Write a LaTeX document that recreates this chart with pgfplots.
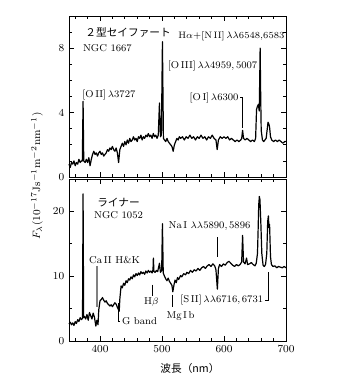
\documentclass[border=0pt]{standalone}
\usepackage{fontspec}
\usepackage{pgfplots}
\pgfplotsset{compat=1.18}
\newfontfamily\jp{Noto Sans CJK JP}
\newcommand{\lf}{\fontsize{7.5}{9}\selectfont}
\pgfplotsset{spec/.style={scale only axis, width=162.75pt, xmin=350, xmax=700,
  xtick={400,500,600,700}, minor xtick={360,380,...,680},
  tick align=inside, xtick pos=both, ytick pos=both,
  major tick length=3.5pt, minor tick length=2pt,
  tick style={black, line width=0.5pt}, axis line style={line width=0.6pt},
  tick label style={font=\fontsize{8}{9}\selectfont}, clip=false},
  sp/.style={black, no markers, line width=0.9pt, line join=round}}
\begin{document}
\begin{tikzpicture}
\useasboundingbox (0pt,0pt) rectangle (270pt,-286.5pt);
% top panel
\begin{axis}[spec, height=120.75pt, at={(51.75pt,-12pt)}, anchor=north west,
  ymin=0, ymax=10, ytick={0,4,8}, minor ytick={1,2,3,5,6,7,9}, xticklabels={}]
\addplot[sp] coordinates {
(350,0.8)(352,0.6)(354,0.9)(356,0.8)(358,1.0)(360,0.7)(362,0.9)(364,0.8)(366,1.1)(368,0.9)(370,1.0)(371.5,1.0)(372.7,4.7)(373.8,1.0)
(376,0.9)(378,1.1)(380,0.9)(382,1.2)(384,0.7)(386,1.1)(388,1.4)(390,1.6)(392,1.4)(394,1.5)(396,1.3)(398,1.5)(400,1.6)
(402,1.4)(404,1.5)(406,1.3)(408,1.4)(410,1.5)(412,1.7)(414,1.6)(416,1.8)(418,1.7)(420,1.9)(422,1.7)(424,1.6)(426,1.8)
(428,1.5)(430,0.9)(432,1.7)(434,1.9)(436,2.1)(438,1.9)(440,2.2)(442,2.0)(444,2.3)(446,2.1)(448,2.4)(450,2.2)(452,2.3)
(454,2.5)(456,2.3)(458,2.4)(460,2.2)(462,2.5)(464,2.4)(466,2.6)(468,2.3)(470,2.5)(472,2.4)(474,2.6)(476,2.5)(478,2.7)
(480,2.5)(482,2.6)(484,2.4)(486,2.7)(488,2.5)(490,2.6)(492,2.4)(494,2.6)(495.9,4.6)(497.5,2.5)(499,2.6)(500.7,8.4)(502.3,2.4)
(504,2.3)(506,2.2)(508,2.4)(510,2.2)(512,2.1)(514,2.0)(516,1.9)(518,1.6)(520,2.0)(522,2.2)(524,2.4)(526,2.3)(528,2.5)
(530,2.4)(533,2.5)(536,2.3)(539,2.5)(542,2.4)(545,2.6)(548,2.4)(551,2.5)(554,2.3)(557,2.5)(560,2.4)(563,2.6)(566,2.4)
(569,2.5)(572,2.3)(575,2.5)(578,2.4)(581,2.6)(584,2.4)(587,2.3)(589,1.7)(591,2.3)(594,2.5)(597,2.4)(600,2.5)(603,2.4)
(606,2.5)(609,2.3)(612,2.4)(615,2.3)(618,2.2)(621,2.3)(624,2.2)(627,2.3)(628.5,2.4)(630,2.9)(631.5,2.4)(634,2.3)(637,2.4)
(640,2.3)(643,2.2)(646,2.3)(649,2.2)(651,2.4)(652.5,4.2)(654,4.4)(655.5,4.5)(656.8,4.1)(657.6,6.0)(658.3,8.0)(659.2,5.0)
(660,2.9)(662,2.3)(664,2.2)(666,2.3)(668,2.4)(669.5,2.9)(671,3.4)(672.3,3.3)(673.5,3.1)(675,2.5)(677,2.3)(680,2.2)
(683,2.3)(686,2.2)(689,2.3)(692,2.2)(695,2.1)(698,2.2)(700,2.2)
};
\node[anchor=west, font=\jp\fontsize{8}{9}\selectfont] at (369,9.0) {２型セイファート};
\node[anchor=west, font=\lf, inner sep=1pt] at (370,8.0) {NGC 1667};
\node[anchor=west, font=\lf, inner sep=1pt] at (369,5.1) {[O\,II]\,$\lambda$3727};
\node[anchor=west, font=\lf, inner sep=1pt] at (507,6.9) {[O\,III]\,$\lambda\lambda$4959,\,5007};
\node[anchor=east, font=\fontsize{7}{9}\selectfont, inner sep=0.5pt] at (699,8.75) {H$\alpha$+[N\,II]\,$\lambda\lambda$6548,6583};
\node[anchor=east, font=\lf, inner sep=1pt] at (626,4.9) {[O\,I]\,$\lambda$6300};
\draw[line width=0.5pt] (626.5,4.95) -- (630,4.95) -- (630,3.05);
\end{axis}
% bottom panel
\begin{axis}[spec, height=121.5pt, at={(51.75pt,-134.25pt)}, anchor=north west,
  ymin=0, ymax=25, ytick={0,10,20}, minor ytick={5,15}]
\addplot[sp] coordinates {
(350,2.6)(352,2.9)(354,2.5)(356,2.8)(358,2.4)(360,3.0)(362,2.7)(364,3.3)(366,3.0)(368,3.6)(370,3.3)(371.8,3.5)(372.7,22.7)(373.6,3.6)
(375,3.8)(377,3.4)(379,4.1)(381,3.2)(383,4.4)(385,3.9)(387,3.4)(389,4.3)(391,3.7)(393.3,2.3)(395,3.2)(396.8,2.5)(398,4.8)
(400,6.2)(402,6.4)(404,6.7)(406,6.3)(408,6.0)(410,6.2)(412,5.8)(414,5.6)(416,5.4)(418,5.6)(420,5.3)(422,5.6)(424,5.9)
(426,5.7)(428,5.2)(430,4.8)(431,4.6)(432,6.5)(434,8.5)(436,8.2)(438,8.9)(440,8.6)(442,9.3)(444,9.0)(446,9.6)(448,9.4)
(450,9.9)(452,9.6)(454,10.2)(456,9.9)(458,10.4)(460,10.1)(462,10.5)(464,10.2)(466,10.7)(468,10.4)(470,10.6)(472,10.3)
(474,10.8)(476,10.5)(478,10.9)(480,10.6)(482,10.8)(484,10.5)(485.5,11.0)(486.1,12.8)(487,10.7)(489,10.6)(491,10.9)
(493,10.7)(495.9,12.0)(497.5,10.6)(499.5,10.9)(500.7,18.1)(502,10.5)(504,10.0)(506,9.6)(508,9.3)(510,9.7)(512,9.2)
(514,8.9)(516,8.6)(517.5,7.6)(519,8.5)(521,9.4)(523,9.0)(525,9.8)(527,9.5)(530,10.1)(532,9.9)(535,10.4)(538,10.2)
(540,10.6)(543,10.4)(546,10.9)(549,10.6)(552,11.0)(555,10.8)(558,11.2)(561,10.9)(564,11.3)(567,11.5)(570,11.2)(573,11.6)
(576,11.8)(579,11.5)(582,11.9)(585,11.6)(587,11.0)(589.3,8.0)(591,11.2)(593,11.8)(596,11.5)(599,11.9)(602,11.7)(605,12.1)
(608,12.3)(611,12.0)(614,11.7)(617,11.5)(620,11.8)(623,11.6)(626,11.8)(628.5,12.2)(630,16.3)(631.5,12.2)(634,11.9)
(636.4,12.8)(638,11.8)(641,11.9)(644,12.1)(647,11.8)(650,11.6)(652,12.0)(654,13.5)(655,17)(656,21)(657,22.3)(658,21.8)
(659.5,18)(661,13.5)(663,11.7)(665,11.5)(667,11.8)(669,13.5)(670.5,18.5)(671.6,19.3)(672.5,17.5)(673.5,18.0)(675,13)
(676.5,11.8)(679,11.5)(682,11.6)(685,11.3)(688,11.5)(691,11.4)(694,11.3)(697,11.5)(700,11.3)
};
\node[anchor=west, font=\jp\fontsize{8}{9}\selectfont] at (388,21.4) {ライナー};
\node[anchor=west, font=\lf, inner sep=1pt] at (388,19.5) {NGC 1052};
\node[anchor=west, font=\lf, inner sep=1pt] at (380,12.5) {Ca\,II H\&K};
\draw[gray, line width=1.3pt] (395,11.6) -- (395,5.3);
\draw[line width=0.5pt] (430,5.8) -- (430,3.0) -- (433,3.0);
\node[anchor=west, font=\lf, inner sep=1pt] at (433,3.0) {G band};
\draw[line width=0.5pt] (485,8.7) -- (485,6.9);
\node[font=\lf, inner sep=1pt] at (483,6.0) {H$\beta$};
\draw[line width=0.5pt] (516,7.1) -- (516,5.3);
\node[font=\lf, inner sep=1pt] at (530,3.9) {Mg\,I\,b};
\node[anchor=west, font=\lf, inner sep=1pt] at (508,17.8) {Na\,I\,\,$\lambda\lambda$5890,\,5896};
\draw[line width=0.5pt] (589,16.0) -- (589,12.9);
\node[anchor=west, font=\lf, inner sep=1pt] at (527,6.3) {[S\,II]\,$\lambda\lambda$6716,\,6731};
\draw[line width=0.5pt] (666,6.3) -- (672,6.3) -- (672,10.7);
\end{axis}
\node[rotate=90, font=\fontsize{8}{9}\selectfont] at (27.75pt,-132pt) {$F_\lambda$(10$^{-17}$Js$^{-1}$m$^{-2}$nm$^{-1}$)};
\node[font=\jp\fontsize{8}{9}\selectfont] at (142.5pt,-276pt) {波長（nm）};
\end{tikzpicture}
\end{document}
